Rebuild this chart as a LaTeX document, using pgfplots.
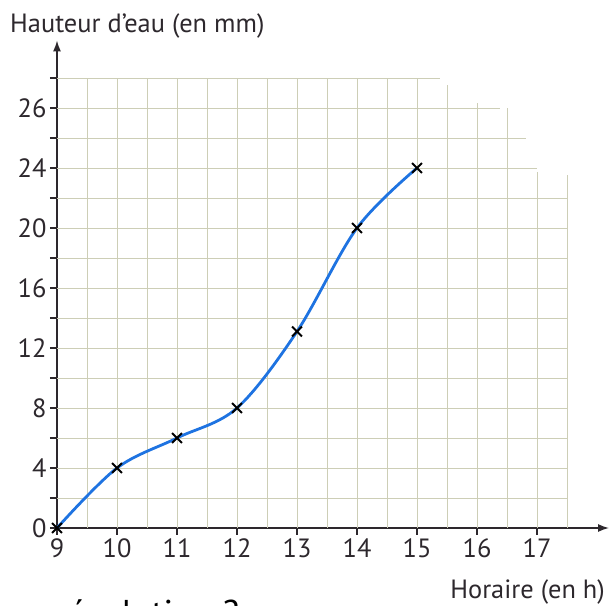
\documentclass[border=0pt]{standalone}
\usepackage{fontspec}
\setmainfont{PT Sans}
\usepackage{pgfplots}
\pgfplotsset{compat=1.18}
\usetikzlibrary{arrows.meta}
\definecolor{gridc}{RGB}{205,206,182}
\definecolor{curvec}{RGB}{30,115,225}
\definecolor{axc}{RGB}{45,40,45}
\begin{document}
\begin{tikzpicture}
\begin{axis}[
  at={(57bp,78bp)}, anchor=south west,
  scale only axis, width=552bp, height=487.5bp,
  xmin=9, xmax=18.2, ymin=0, ymax=32.5,
  axis lines=left,
  axis line style={axc, line width=1.4bp, -{Latex[length=11bp,width=8bp]}},
  xtick={9,10,11,12,13,14,15,16,17},
  ytick={0,2,4,6,8,10,12,14,16,18,20,22,24,26,28,30},
  yticklabels={0,{},4,{},8,{},12,{},16,{},20,{},24,{},26,{}},
  tick style={axc, line width=1.2bp},
  major tick length=7bp, tick align=outside,
  tick label style={font=\fontsize{26.5}{31}\selectfont, text=axc},
  /pgf/number format/assume math mode=true,
  clip=false,
]
% paper grid (torn at the top right)
\pgfplotsinvokeforeach{9.5,10,10.5,11,11.5,12,12.5,13,13.5,14,14.5,15}{
  \draw[gridc, line width=0.7bp] (#1,0) -- (#1,30);
}
\draw[gridc, line width=0.7bp] (15.5,0) -- (15.5,29.5);
\draw[gridc, line width=0.7bp] (16,0) -- (16,28.3);
\draw[gridc, line width=0.7bp] (16.5,0) -- (16.5,28);
\draw[gridc, line width=0.7bp] (17,0) -- (17,23.7);
\draw[gridc, line width=0.7bp] (17.5,0) -- (17.5,23.5);
\pgfplotsinvokeforeach{2,4,6,8,10,12,14,16,18,20,22}{
  \draw[gridc, line width=0.7bp] (9,#1) -- (17.5,#1);
}
\draw[gridc, line width=0.7bp] (9,24) -- (17,24);
\draw[gridc, line width=0.7bp] (9,26) -- (16.82,26);
\draw[gridc, line width=0.7bp] (9,28) -- (16.38,28);
\draw[gridc, line width=0.7bp] (9,30) -- (15.38,30);

\addplot[curvec, line width=2.8bp, smooth, tension=0.55] coordinates {
  (9,0) (10,4) (11,6) (12,8) (13,13.1) (14,20) (15,24)
};
\addplot[only marks, mark=x, mark size=7bp, mark options={line width=1.9bp, black}] coordinates {
  (9,0) (10,4) (11,6) (12,8) (13,13.1) (14,20) (15,24)
};
\end{axis}
\node[anchor=base west, inner sep=0pt, text=axc, font=\fontsize{26.5}{31}\selectfont] at (10bp,573bp) {Hauteur d’eau (en mm)};
\node[anchor=base east, inner sep=0pt, text=axc, font=\fontsize{26.5}{31}\selectfont] at (605bp,8bp) {Horaire (en h)};
\node[anchor=base west, inner sep=0pt, text=black, font=\fontsize{36}{42}\selectfont] at (68bp,-19bp) {évolution 2};
\pgfresetboundingbox
\useasboundingbox (0bp,0bp) rectangle (611bp,606bp);
\end{tikzpicture}
\end{document}
